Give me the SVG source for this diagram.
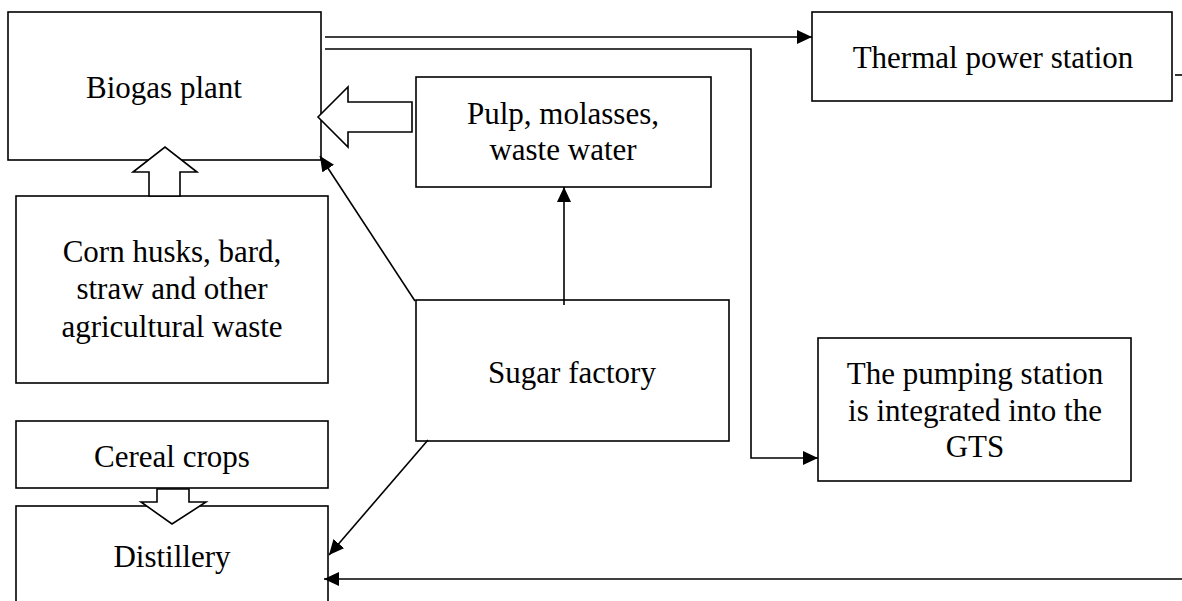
<svg xmlns="http://www.w3.org/2000/svg" width="1182" height="601" viewBox="0 0 1182 601">
<style>
.box{fill:#fff;stroke:#000;stroke-width:1.6}
text{font-family:'Liberation Serif','Times New Roman','DejaVu Serif',serif;font-size:31px;fill:#000;text-anchor:middle}
.c{fill:none;stroke:#000;stroke-width:1.6}
.hollow{fill:#fff;stroke:#000;stroke-width:1.6;stroke-linejoin:miter}
</style>
<defs>
<marker id="ah" markerUnits="userSpaceOnUse" markerWidth="16" markerHeight="14" refX="15" refY="7" orient="auto">
<path d="M0,0 L15,7 L0,14 Z" fill="#000"/>
</marker>
</defs>
<rect width="1182" height="601" fill="#fff"/>
<g id="biogas">
<rect class="box" x="8" y="12" width="313" height="148"/>
<text x="164" y="98" font-family="Liberation Serif, DejaVu Serif, serif">Biogas plant</text>
</g>
<g id="thermal">
<rect class="box" x="812" y="12" width="360" height="89"/>
<text x="993" y="68" font-family="Liberation Serif, DejaVu Serif, serif">Thermal power station</text>
</g>
<g id="pulp">
<rect class="box" x="416" y="77" width="295" height="110"/>
<text x="563" y="124" font-family="Liberation Serif, DejaVu Serif, serif">Pulp, molasses,</text>
<text x="563" y="160" font-family="Liberation Serif, DejaVu Serif, serif">waste water</text>
</g>
<g id="corn">
<rect class="box" x="16" y="196" width="312" height="187"/>
<text x="172" y="262" font-family="Liberation Serif, DejaVu Serif, serif">Corn husks, bard,</text>
<text x="172" y="299" font-family="Liberation Serif, DejaVu Serif, serif">straw and other</text>
<text x="172" y="337" font-family="Liberation Serif, DejaVu Serif, serif">agricultural waste</text>
</g>
<g id="sugar">
<rect class="box" x="416" y="300" width="313" height="141"/>
<text x="572" y="383" font-family="Liberation Serif, DejaVu Serif, serif">Sugar factory</text>
</g>
<g id="pumping">
<rect class="box" x="818" y="338" width="313" height="143"/>
<text x="975" y="384" font-family="Liberation Serif, DejaVu Serif, serif">The pumping station</text>
<text x="975" y="421" font-family="Liberation Serif, DejaVu Serif, serif">is integrated into the</text>
<text x="975" y="457" font-family="Liberation Serif, DejaVu Serif, serif">GTS</text>
</g>
<g id="cereal">
<rect class="box" x="16" y="421" width="312" height="67"/>
<text x="172" y="467" font-family="Liberation Serif, DejaVu Serif, serif">Cereal crops</text>
</g>
<g id="distillery">
<rect class="box" x="16" y="506" width="312" height="110"/>
<text x="172" y="567" font-family="Liberation Serif, DejaVu Serif, serif">Distillery</text>
</g>
<g id="connectors">
<path class="c" d="M325,37 L812,37" marker-end="url(#ah)"/>
<path class="c" d="M325,49 L751,49 L751,458 L818,458" marker-end="url(#ah)"/>
<path class="c" d="M564,305 L564,187" marker-end="url(#ah)"/>
<path class="c" d="M415,301 L320,156" marker-end="url(#ah)"/>
<path class="c" d="M428,440 L329,555" marker-end="url(#ah)"/>
<path class="c" d="M1182,579 L324,579" marker-end="url(#ah)"/>
<path class="c" d="M1175,75 L1182,75"/>
<polygon class="hollow" points="412,102 348,102 348,87 318,117 348,147 348,132 412,132"/>
<polygon class="hollow" points="149,196 149,172 133,172 165,147 197,172 180,172 180,196"/>
<polygon class="hollow" points="157,489 157,502 141,502 172,524 206,502 189,502 189,489"/>
</g>
</svg>
